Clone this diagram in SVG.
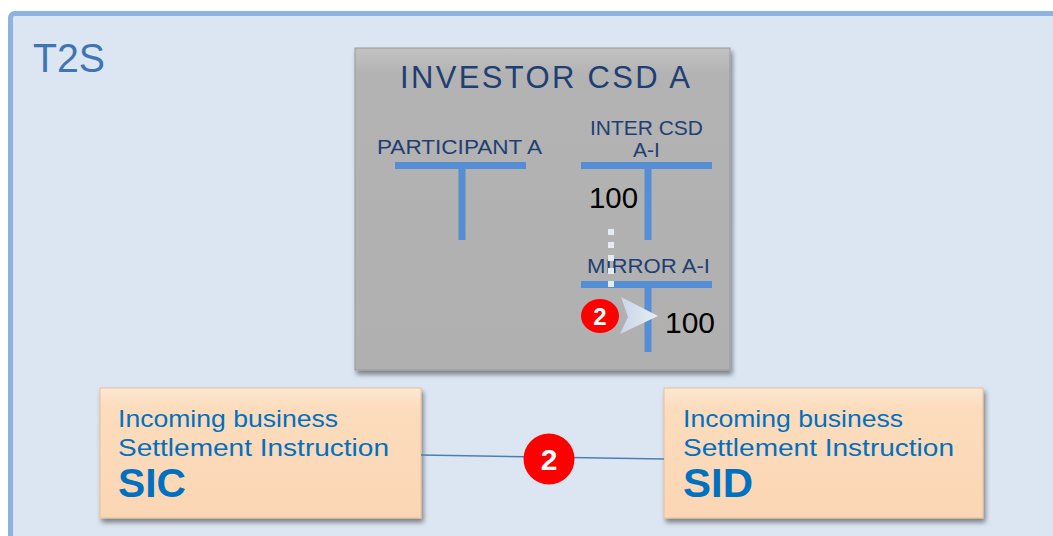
<svg xmlns="http://www.w3.org/2000/svg" width="1053" height="536" viewBox="0 0 1053 536">
<defs>
<style>
.navy{font-family:"Liberation Sans",Arial,sans-serif;fill:#1f3f73}
.blue{font-family:"Liberation Sans",Arial,sans-serif;fill:#0070c0}
.num{font-family:"Liberation Sans",Arial,sans-serif;fill:#000;font-size:29px}
.bar{fill:#558ed5}
.badge{fill:#ff0000}
.badgeText{font-family:"Liberation Sans",Arial,sans-serif;font-weight:bold;fill:#fff;text-anchor:middle}
.peach{fill:url(#peachGrad);stroke:#e8c09a;stroke-width:1}
</style>
<linearGradient id="peachGrad" x1="0" y1="0" x2="0" y2="1">
<stop offset="0" stop-color="#fde8d3"/>
<stop offset="0.15" stop-color="#fcdcbc"/>
<stop offset="1" stop-color="#fbd6b4"/>
</linearGradient>
<linearGradient id="grayGrad" x1="0" y1="0" x2="0" y2="1">
<stop offset="0" stop-color="#c2c2c2"/>
<stop offset="0.08" stop-color="#b3b3b3"/>
<stop offset="1" stop-color="#b0b0b0"/>
</linearGradient>
<linearGradient id="arrowGrad" x1="0" y1="0" x2="1" y2="0">
<stop offset="0" stop-color="#c9d6e6"/>
<stop offset="1" stop-color="#e6edf6"/>
</linearGradient>
<filter id="shadow" x="-10%" y="-10%" width="120%" height="125%">
<feGaussianBlur in="SourceAlpha" stdDeviation="2.5"/>
<feOffset dx="2" dy="4" result="b"/>
<feComponentTransfer><feFuncA type="linear" slope="0.45"/></feComponentTransfer>
<feMerge><feMergeNode/><feMergeNode in="SourceGraphic"/></feMerge>
</filter>
</defs>

<g id="t2s">
<rect x="10.5" y="13.5" width="1060" height="540" rx="4" fill="#dce6f2" stroke="#8db3e2" stroke-width="5"/>
<text x="33" y="72" font-family="Liberation Sans, Arial, sans-serif" font-size="40" fill="#3f74b5" textLength="72" lengthAdjust="spacingAndGlyphs">T2S</text>
</g>

<g id="investor-csd-a">
<rect x="355" y="48" width="375" height="322" fill="url(#grayGrad)" stroke="#9a9a9a" stroke-width="1" filter="url(#shadow)"/>
<text class="navy" x="400" y="88" font-size="31" textLength="290" lengthAdjust="spacing">INVESTOR CSD A</text>
</g>

<g id="participant-a">
<text class="navy" x="377" y="154" font-size="21" textLength="165" lengthAdjust="spacingAndGlyphs">PARTICIPANT A</text>
<rect class="bar" x="395" y="162" width="131" height="7"/>
<rect class="bar" x="458.5" y="162" width="7" height="78"/>
</g>

<g id="inter-csd-a-i">
<text class="navy" x="590" y="135" font-size="21" textLength="113" lengthAdjust="spacingAndGlyphs">INTER CSD</text>
<text class="navy" x="646.5" y="157" font-size="21" text-anchor="middle">A-I</text>
<rect class="bar" x="581" y="162" width="131" height="7"/>
<rect class="bar" x="644.5" y="162" width="7" height="78"/>
<text class="num" x="589" y="208" textLength="49" lengthAdjust="spacingAndGlyphs">100</text>
</g>

<g id="mirror-a-i">
<text class="navy" x="587" y="273" font-size="21" textLength="123" lengthAdjust="spacingAndGlyphs">MIRROR A-I</text>
<rect class="bar" x="581" y="281" width="131" height="7"/>
<rect class="bar" x="644.5" y="281" width="7" height="71"/>
<text class="num" x="665" y="333" textLength="50" lengthAdjust="spacingAndGlyphs">100</text>
</g>

<g id="sic">
<rect class="peach" x="100" y="388" width="321" height="130" filter="url(#shadow)"/>
<text class="blue" x="118" y="427" font-size="24" textLength="220" lengthAdjust="spacingAndGlyphs">Incoming business</text>
<text class="blue" x="118" y="456" font-size="23" textLength="271" lengthAdjust="spacingAndGlyphs">Settlement Instruction</text>
<text class="blue" x="118" y="497" font-size="40" font-weight="bold" textLength="68" lengthAdjust="spacingAndGlyphs">SIC</text>
</g>

<g id="sid">
<rect class="peach" x="664" y="388" width="319" height="130" filter="url(#shadow)"/>
<text class="blue" x="683" y="427" font-size="24" textLength="220" lengthAdjust="spacingAndGlyphs">Incoming business</text>
<text class="blue" x="683" y="456" font-size="23" textLength="271" lengthAdjust="spacingAndGlyphs">Settlement Instruction</text>
<text class="blue" x="683" y="497" font-size="40" font-weight="bold" textLength="70" lengthAdjust="spacingAndGlyphs">SID</text>
</g>

<g id="connectors">
<line x1="611" y1="229" x2="611" y2="293" stroke="#e4ebf4" stroke-width="6" stroke-dasharray="6 7"/>
<path d="M621 297 L658 316 L620 334 L628 317 Z" fill="url(#arrowGrad)"/>
<line x1="421" y1="455" x2="664" y2="459" stroke="#4a7ebb" stroke-width="1.5"/>
</g>

<g id="badge-mirror">
<ellipse class="badge" cx="600" cy="316" rx="19" ry="17"/>
<text class="badgeText" x="600" y="325" font-size="24">2</text>
</g>

<g id="badge-link">
<circle class="badge" cx="549" cy="459" r="25.5"/>
<text class="badgeText" x="549" y="470" font-size="30">2</text>
</g>
</svg>
